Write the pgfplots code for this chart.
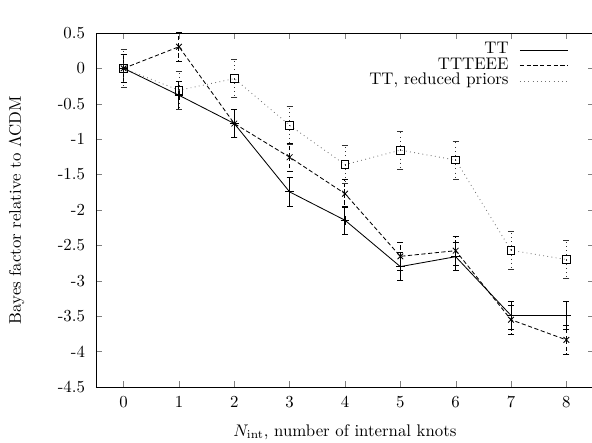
\documentclass[border=0pt]{standalone}
\usepackage{pgfplots}
\pgfplotsset{compat=1.18}
\usepackage{pgfplotstable}

% columns: knots, Bayes factor, error
\pgfplotstableread{
x y e
0 0.00 0.20
1 -0.38 0.20
2 -0.78 0.20
3 -1.745 0.20
4 -2.145 0.20
5 -2.80 0.20
6 -2.66 0.20
7 -3.49 0.20
8 -3.49 0.20
}\tt

\pgfplotstableread{
x y e
0 0.00 0.20
1 0.305 0.20
2 -0.78 0.20
3 -1.255 0.20
4 -1.77 0.20
5 -2.655 0.20
6 -2.575 0.20
7 -3.55 0.20
8 -3.835 0.20
}\ttteee

\pgfplotstableread{
x y e
0 0.00 0.27
1 -0.31 0.27
2 -0.145 0.27
3 -0.805 0.27
4 -1.36 0.27
5 -1.155 0.27
6 -1.295 0.27
7 -2.57 0.27
8 -2.70 0.27
}\reduced

\begin{document}
\begin{tikzpicture}
\begin{axis}[name=ax, scale only axis, width=296.4pt, height=210.7pt,
  xmin=-0.5, xmax=8.5, ymin=-4.5, ymax=0.5,
  xtick={0,1,...,8},
  ytick={-4.5,-4,...,0.5},
  yticklabels={-4.5,-4,-3.5,-3,-2.5,-2,-1.5,-1,-0.5,0,0.5},
  tick align=inside, major tick length=3.6pt,
  axis line style={line width=0.5pt},
  yticklabel style={xshift=-3pt},
  xticklabel style={yshift=-2pt},
  xlabel={$N_{\mathrm{int}}$, number of internal knots},
  ylabel={Bayes factor relative to $\Lambda$CDM},
  xlabel style={at={(axis description cs:0.5,0)}, yshift=-26.8pt, anchor=center},
  ylabel style={at={(axis description cs:-0.159,0.5)}, anchor=center},
  legend cell align=right, legend plot pos=right,
  legend image code/.code={\draw[#1] (0pt,0pt) -- (28.5pt,0pt);},
  legend style={at={(rel axis cs:0.949,0.975)}, anchor=north east,
    draw=none, fill=none, inner sep=0pt, row sep=0pt, column sep=6.5pt,
    nodes={inner sep=0pt, text height=6.9pt, text depth=2.4pt}},
]
\addplot[black, line width=0.5pt, mark=+, mark size=2.6pt,
  error bars/.cd, y dir=both, y explicit,
  error bar style={line width=0.6pt, solid},
  error mark options={rotate=90, mark size=1.8pt, line width=0.6pt}]
  table[x=x, y=y, y error=e] {\tt};
\addlegendentry{TT}
\addplot[black, line width=0.5pt, dash pattern=on 2.5pt off 1.5pt,
  mark=x, mark size=2.4pt, mark options={solid},
  error bars/.cd, y dir=both, y explicit,
  error bar style={line width=0.6pt, dash pattern=on 2.5pt off 1.5pt},
  error mark options={rotate=90, mark size=1.8pt, solid}]
  table[x=x, y=y, y error=e] {\ttteee};
\addlegendentry{TTTEEE}
\addplot[black!55, line width=0.5pt, dotted,
  mark=square, mark size=2.3pt, mark options={solid, black},
  error bars/.cd, y dir=both, y explicit,
  error bar style={line width=0.5pt, dotted, black!80},
  error mark options={rotate=90, mark size=1.8pt, solid, black!80}]
  table[x=x, y=y, y error=e] {\reduced};
\addlegendentry{TT, reduced priors}
\end{axis}
\pgfresetboundingbox
\path[use as bounding box] ([xshift=-57.1pt,yshift=-33.3pt]ax.south west)
  rectangle ([xshift=-1.2pt,yshift=19.6pt]ax.north east);
\end{tikzpicture}
\end{document}
